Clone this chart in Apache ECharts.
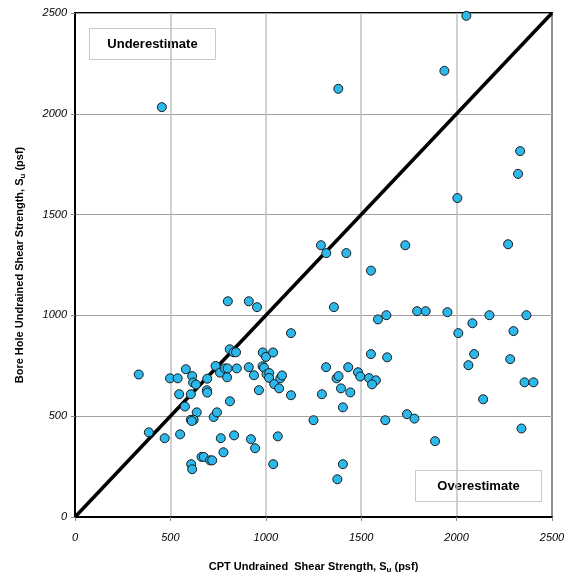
<!DOCTYPE html>
<html>
<head>
<meta charset="utf-8">
<script src="https://cdn.jsdelivr.net/npm/echarts@6/dist/echarts.min.js"></script>
<style>
  html, body { margin: 0; padding: 0; background: #fff; }
  #chart { width: 573px; height: 579px; }
</style>
</head>
<body>
<div id="chart"></div>
<script>
// CPT vs bore hole undrained shear strength (psf)
var cptSu = [
    455, 2051, 1936, 1380, 2333, 2322, 2004, 1289, 1317, 1422, 1731, 2270, 1551, 1357, 1588, 1632,
    1793, 1838, 1952, 2172, 2366, 2083, 2009, 2298, 1551, 1636, 2092, 2062, 2281, 1316, 1432, 1371,
    1381, 1483, 1495, 1541, 1577, 1557, 1394, 1443, 1294, 1404, 2356, 2403, 2139, 1250, 1626, 1740,
    1779, 2340, 1887, 1404, 1375, 801, 911, 954, 1132, 334, 498, 538, 581, 614,
    619, 634, 693, 546, 607, 691, 693, 737, 760, 786, 800, 797, 811, 831, 844, 848,
    911, 938, 964, 984, 1001, 1038, 983, 991, 1004, 1018, 1017, 1044, 1070, 1076, 1085, 1132,
    576, 638, 727, 744, 607, 622, 612, 812, 387, 470, 551, 764, 834, 922, 944, 1063,
    778, 663, 675, 708, 719, 609, 614, 1039
];
var boreSu = [
    2033, 2486, 2213, 2124, 1815, 1702, 1582, 1348, 1309, 1309, 1348, 1353, 1222, 1041, 980, 1001,
    1021, 1021, 1016, 1001, 1001, 961, 912, 922, 808, 792, 808, 753, 783, 743, 743, 688,
    699, 718, 697, 689, 678, 658, 638, 618, 609, 544, 668, 668, 584, 480, 480, 510,
    488, 439, 376, 262, 187, 1070, 1070, 1041, 912, 707, 688, 688, 733, 699,
    667, 657, 686, 609, 609, 629, 617, 749, 716, 737, 737, 693, 832, 817, 817, 737,
    743, 703, 629, 816, 794, 816, 748, 740, 708, 714, 690, 659, 638, 688, 702, 604,
    548, 519, 496, 519, 482, 482, 476, 574, 420, 391, 410, 391, 405, 386, 341, 400,
    321, 298, 298, 281, 281, 262, 237, 262
];
var oneToOneLine = [[0, 0], [2500, 2500]];

var points = [];
for (var i = 0; i < cptSu.length; i++) {
    points.push([cptSu[i], boreSu[i]]);
}

var font = '"Liberation Sans", Arial, sans-serif';
var myChart = echarts.init(document.getElementById('chart'));

var nameRich = {
    b: { fontFamily: font, fontWeight: 'bold', fontSize: 11, color: '#000' },
    sub: { fontFamily: font, fontWeight: 'bold', fontSize: 8, color: '#000', verticalAlign: 'bottom', padding: [6, 0, 0, 0] }
};

function boxLabel(left, top, w, h, text) {
    return {
        type: 'group',
        left: left,
        top: top,
        children: [{
            type: 'rect',
            shape: { x: 0, y: 0, width: w, height: h },
            style: { fill: '#fff', stroke: '#c8c8c8', lineWidth: 1 }
        }, {
            type: 'text',
            x: w / 2,
            y: h / 2,
            style: {
                text: text,
                align: 'center',
                verticalAlign: 'middle',
                fontFamily: font,
                fontWeight: 'bold',
                fontSize: 13,
                fill: '#000'
            }
        }]
    };
}

// plain numbers, no thousands separator
function plain(v) {
    return String(v);
}

var option = {
    animation: false,
    backgroundColor: '#fff',
    grid: {
        left: 75,
        right: 21,
        top: 13,
        bottom: 62,
        show: true,
        borderColor: '#000',
        borderWidth: 2,
        backgroundColor: 'transparent'
    },
    xAxis: {
        type: 'value',
        min: 0,
        max: 2500,
        interval: 500,
        name: '{b|CPT Undrained  Shear Strength, S}{sub|u}{b| (psf)}',
        nameLocation: 'middle',
        nameGap: 43,
        nameTextStyle: { rich: nameRich },
        axisLine: { show: true, lineStyle: { color: '#000', width: 2 } },
        axisTick: { show: true, length: 4, lineStyle: { color: '#888' } },
        axisLabel: {
            margin: 15,
            formatter: plain,
            fontFamily: font,
            fontStyle: 'italic',
            fontSize: 11,
            color: '#000'
        },
        splitLine: { show: true, lineStyle: { color: '#c0c0c0', width: 1.5 } }
    },
    yAxis: {
        type: 'value',
        min: 0,
        max: 2500,
        interval: 500,
        name: '{b|Bore Hole Undrained Shear Strength, S}{sub|u}{b| (psf)}',
        nameLocation: 'middle',
        nameGap: 48,
        nameTextStyle: { rich: nameRich },
        axisLine: { show: true, lineStyle: { color: '#000', width: 2 } },
        axisTick: { show: true, length: 4, lineStyle: { color: '#888' } },
        axisLabel: {
            margin: 8,
            formatter: plain,
            fontFamily: font,
            fontStyle: 'italic',
            fontSize: 11,
            color: '#000'
        },
        splitLine: { show: true, lineStyle: { color: '#a0a0a0', width: 1.2 } }
    },
    series: [{
        name: '1:1',
        type: 'line',
        data: oneToOneLine,
        showSymbol: false,
        symbol: 'none',
        lineStyle: { color: '#000', width: 3.5 },
        z: 2
    }, {
        name: 'Su',
        type: 'scatter',
        data: points,
        symbol: 'circle',
        symbolSize: 9,
        itemStyle: {
            color: '#2cb8ea',
            borderColor: '#1a1a1a',
            borderWidth: 1,
            opacity: 1
        },
        z: 3
    }],
    graphic: [
        boxLabel(89, 28, 126, 31, 'Underestimate'),
        boxLabel(415, 470, 126, 31, 'Overestimate')
    ]
};

myChart.setOption(option);
</script>
</body>
</html>
